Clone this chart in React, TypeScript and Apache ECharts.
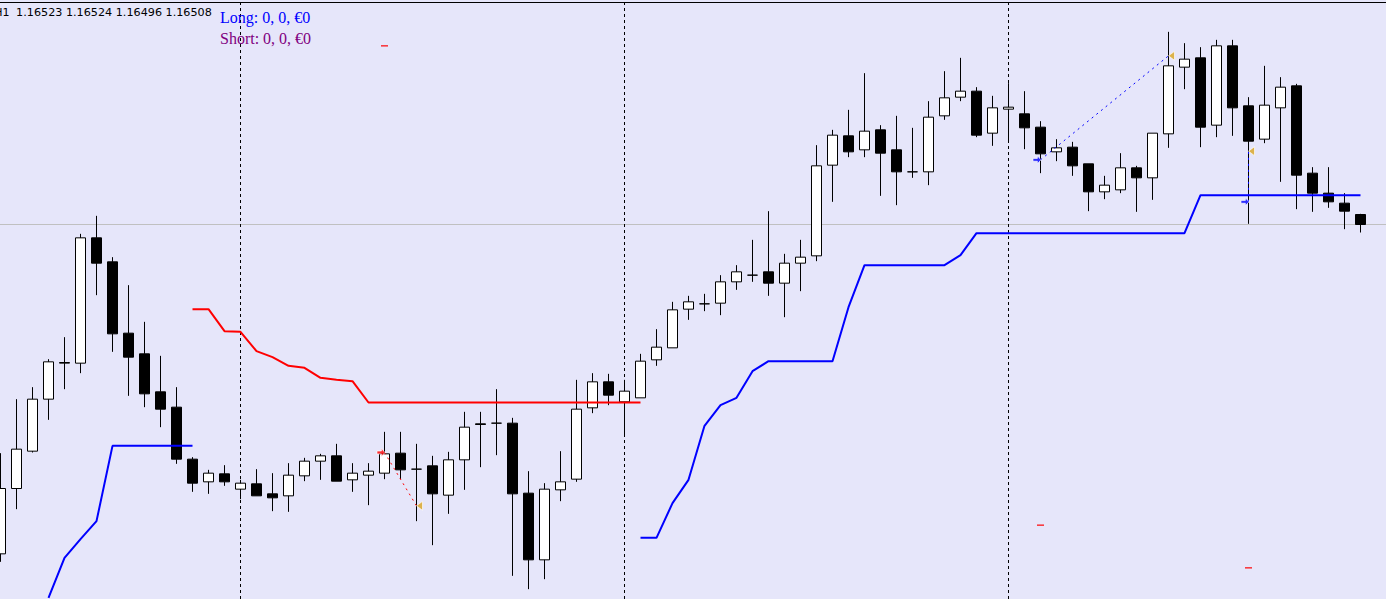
import React, { useEffect, useRef } from "react";
import * as echarts from "echarts";

// ---- hourly bars (H1), index 0 = first bar on screen ----
const barTimes: string[] = Array.from({ length: 86 }, (_, i) => {
  const t = i + 9;
  const day = 20 + Math.floor(t / 24);
  const h = t % 24;
  return `2025.08.${day} ${String(h).padStart(2, "0")}:00`;
});

const opens = [
  1.16014, 1.16112, 1.16168, 1.16246, 1.163, 1.163, 1.16488, 1.16452, 1.16345, 1.16314,
  1.16257, 1.16234, 1.16156, 1.16122, 1.16134, 1.16111, 1.16119, 1.16104, 1.16101, 1.16131,
  1.16153, 1.16161, 1.16125, 1.16132, 1.16135, 1.16165, 1.16141, 1.16146, 1.16102, 1.16155,
  1.16209, 1.1621, 1.1621, 1.16105, 1.16005, 1.1611, 1.16126, 1.16233, 1.16272, 1.16242,
  1.16248, 1.16305, 1.16323, 1.16381, 1.16389, 1.1639, 1.16422, 1.16432, 1.16437, 1.1642,
  1.1645, 1.16461, 1.16597, 1.16641, 1.1662, 1.1665, 1.1662, 1.16587, 1.16587, 1.16671,
  1.16699, 1.16708, 1.16645, 1.16681, 1.16674, 1.16654, 1.16617, 1.16624, 1.16599, 1.16557,
  1.1656, 1.16593, 1.16578, 1.16644, 1.16744, 1.16758, 1.16657, 1.16776, 1.16686, 1.16636,
  1.16683, 1.16716, 1.16585, 1.16555, 1.1654, 1.16523,
];
const closes = [
  1.16112, 1.16171, 1.16246, 1.16302, 1.16301, 1.16488, 1.1645, 1.16344, 1.16309, 1.16254,
  1.16231, 1.16156, 1.1612, 1.16135, 1.16122, 1.1612, 1.16101, 1.16098, 1.16132, 1.16153,
  1.16161, 1.16123, 1.16135, 1.16138, 1.16164, 1.1614, 1.16141, 1.16104, 1.16155, 1.16204,
  1.16208, 1.1621, 1.16104, 1.16005, 1.16111, 1.16122, 1.16231, 1.16272, 1.16252, 1.16258,
  1.16303, 1.16324, 1.1638, 1.16392, 1.16389, 1.16422, 1.16437, 1.16432, 1.1642, 1.1645,
  1.16459, 1.16596, 1.16642, 1.16617, 1.16648, 1.16615, 1.16587, 1.16587, 1.16669, 1.16698,
  1.16708, 1.16642, 1.16683, 1.16684, 1.16653, 1.16614, 1.16623, 1.16596, 1.16557, 1.16567,
  1.16593, 1.16578, 1.16645, 1.16746, 1.16756, 1.16654, 1.16776, 1.16683, 1.16633, 1.16687,
  1.16714, 1.16582, 1.16555, 1.16542, 1.16528, 1.16508,
];
const lows = [
  1.16002, 1.16081, 1.16166, 1.16215, 1.16261, 1.16285, 1.16402, 1.16317, 1.16251, 1.16234,
  1.16204, 1.16149, 1.16107, 1.16104, 1.16116, 1.16096, 1.16101, 1.16078, 1.16077, 1.16123,
  1.16125, 1.16123, 1.16107, 1.16087, 1.16126, 1.16126, 1.16063, 1.16027, 1.16074, 1.1611,
  1.16144, 1.16162, 1.15981, 1.15961, 1.15976, 1.16093, 1.16122, 1.16225, 1.16237, 1.16191,
  1.16248, 1.16296, 1.16323, 1.16365, 1.16378, 1.16372, 1.1641, 1.16422, 1.16401, 1.16369,
  1.16408, 1.16453, 1.16542, 1.16609, 1.16609, 1.16551, 1.16537, 1.16578, 1.16567, 1.16665,
  1.16693, 1.16639, 1.16626, 1.16632, 1.16621, 1.16585, 1.16603, 1.16581, 1.16528, 1.16546,
  1.16555, 1.16527, 1.16545, 1.16623, 1.16711, 1.16624, 1.16639, 1.16641, 1.16509, 1.1663,
  1.16572, 1.16531, 1.16527, 1.16533, 1.16501, 1.16496,
];
const highs = [
  1.16165, 1.16246, 1.16264, 1.16306, 1.16339, 1.16494, 1.16521, 1.16459, 1.16417, 1.16362,
  1.16311, 1.16264, 1.16159, 1.1614, 1.16147, 1.16125, 1.16141, 1.16135, 1.1615, 1.16158,
  1.16164, 1.16179, 1.1615, 1.1615, 1.16197, 1.16197, 1.16179, 1.16161, 1.16167, 1.16227,
  1.16227, 1.16261, 1.16218, 1.16138, 1.1612, 1.16168, 1.16275, 1.16285, 1.16284, 1.16275,
  1.16314, 1.16351, 1.16392, 1.16401, 1.16404, 1.16432, 1.16447, 1.16485, 1.16528, 1.16464,
  1.16485, 1.16627, 1.1665, 1.1668, 1.16735, 1.16657, 1.16671, 1.16653, 1.16693, 1.16738,
  1.16758, 1.16714, 1.16701, 1.1672, 1.16708, 1.16663, 1.16636, 1.16632, 1.16599, 1.16581,
  1.16615, 1.16596, 1.16645, 1.16797, 1.1678, 1.16774, 1.16785, 1.16785, 1.16699, 1.16746,
  1.16729, 1.16719, 1.16594, 1.16594, 1.16555, 1.16524,
];

// trailing stop lines (start bar index + values)
const sellStopStart = 12;
const sellStop = [
  1.16381, 1.16381, 1.16348, 1.16347, 1.16318, 1.16309, 1.16296, 1.16293, 1.16278, 1.16275,
  1.16273, 1.16241, 1.16241, 1.16241, 1.16241, 1.16241, 1.16241, 1.16241, 1.16241, 1.16241,
  1.16241, 1.16241, 1.16241, 1.16241, 1.16241, 1.16241, 1.16241, 1.16241, 1.16241,
];
const buyStopAStart = 3;
const buyStopA = [1.15948, 1.16008, 1.16036, 1.16063, 1.16176, 1.16176, 1.16176, 1.16176, 1.16176, 1.16176];
const buyStopBStart = 40;
const buyStopB = [
  1.16038, 1.16038, 1.1609, 1.16125, 1.16206, 1.16237, 1.16248, 1.16288, 1.16303, 1.16303,
  1.16303, 1.16303, 1.16303, 1.16384, 1.16447, 1.16447, 1.16447, 1.16447, 1.16447, 1.16447,
  1.16462, 1.16495, 1.16495, 1.16495, 1.16495, 1.16495, 1.16495, 1.16495, 1.16495, 1.16495,
  1.16495, 1.16495, 1.16495, 1.16495, 1.16495, 1.16552, 1.16552, 1.16552, 1.16552, 1.16552,
  1.16552, 1.16552, 1.16552, 1.16552, 1.16552, 1.16552,
];

// trades
const tradeKinds = ["sell", "buy", "buy"];
const tradeEntryBar = [24, 65, 78];
const tradeEntryPrice = [1.16166, 1.16605, 1.16542];
const tradeExitBar = [26, 73, 78];
const tradeExitPrice = [1.16086, 1.16761, 1.16618];
const tradeStopPrice = [1.16776, 1.16057, 1.15993];

const daySeparators = [15, 39, 63];
const bidPrice = 1.16508;

// visible window (bar index units / price)
const xMin = -0.03125;
const xMax = 86.59375;
const yMin = 1.1594625;
const yMax = 1.1684475;

const headerSymbol = "H1";
const headerValues = "1.16523 1.16524 1.16496 1.16508";
const longText = "Long: 0, 0, €0";
const shortText = "Short: 0, 0, €0";

const ARROW = "path://M0,32L55,32L55,0L100,50L55,100L55,68L0,68Z";
const CLOSE_TRI = "path://M0,50L100,0L100,100Z";

export default function App() {
  const ref = useRef<HTMLDivElement>(null);

  useEffect(() => {
    if (!ref.current) return;
    const chart = echarts.init(ref.current, undefined, { renderer: "svg" });

    const candleData = opens.map((o, i) => ({
      name: barTimes[i],
      value: [i, o, closes[i], lows[i], highs[i]],
    }));
    const toPairs = (start: number, arr: number[]) => arr.map((v, i) => [start + i, v]);

    const guideSeries: any[] = [
      {
        type: "line",
        data: [
          [xMin, bidPrice],
          [xMax, bidPrice],
        ],
        symbol: "none",
        lineStyle: { color: "#C0C0C0", width: 1 },
        z: 1,
        silent: true,
      },
      ...daySeparators.map((d) => ({
        type: "line",
        data: [
          [d, yMin],
          [d, yMax],
        ],
        symbol: "none",
        lineStyle: { color: "#000000", width: 1, type: [3, 3] },
        z: 1,
        silent: true,
      })),
    ];

    const tradeSeries: any[] = tradeKinds.map((kind, t) => ({
      type: "line",
      data: [
        [tradeEntryBar[t], tradeEntryPrice[t]],
        [tradeExitBar[t], tradeExitPrice[t]],
      ],
      symbol: "none",
      lineStyle: { color: kind === "sell" ? "#FF0000" : "#0000FF", width: 1, type: [2, 4] },
      z: 4,
      silent: true,
    }));

    const markerData: any[] = [];
    tradeKinds.forEach((kind, t) => {
      const col = kind === "sell" ? "#FF0000" : "#0000FF";
      markerData.push({
        value: [tradeEntryBar[t], tradeEntryPrice[t]],
        symbol: ARROW,
        symbolSize: [8, 8],
        symbolOffset: [-3.5, 0],
        itemStyle: { color: col, borderColor: "#FFFFFF", borderWidth: 0.8 },
      });
      markerData.push({
        value: [tradeExitBar[t], tradeExitPrice[t]],
        symbol: CLOSE_TRI,
        symbolSize: [6, 9],
        symbolOffset: [3, 0],
        itemStyle: { color: "#DAA520", borderColor: "#FFFFFF", borderWidth: 0.8 },
      });
      markerData.push({
        value: [tradeEntryBar[t], tradeStopPrice[t]],
        symbol: "rect",
        symbolSize: [7, 1.5],
        itemStyle: { color: "#FF0000" },
      });
    });

    chart.setOption({
      animation: false,
      backgroundColor: "#E6E6FA",
      grid: { left: 0, top: 0, right: 0, bottom: 0, containLabel: false },
      xAxis: {
        type: "value",
        min: xMin,
        max: xMax,
        show: false,
        splitLine: { show: false },
      },
      yAxis: {
        type: "value",
        min: yMin,
        max: yMax,
        show: false,
        splitLine: { show: false },
      },
      series: [
        ...guideSeries,
        {
          type: "candlestick",
          data: candleData,
          encode: { x: 0, y: [1, 2, 3, 4] },
          barWidth: 10,
          z: 2,
          silent: true,
          itemStyle: {
            color: "#FFFFFF",
            color0: "#000000",
            borderColor: "#000000",
            borderColor0: "#000000",
            borderWidth: 1,
          },
        },
        {
          type: "line",
          data: toPairs(sellStopStart, sellStop),
          symbol: "none",
          lineStyle: { color: "#FF0000", width: 2 },
          z: 3,
          silent: true,
        },
        {
          type: "line",
          data: toPairs(buyStopAStart, buyStopA),
          symbol: "none",
          lineStyle: { color: "#0000FF", width: 2 },
          z: 3,
          silent: true,
        },
        {
          type: "line",
          data: toPairs(buyStopBStart, buyStopB),
          symbol: "none",
          lineStyle: { color: "#0000FF", width: 2 },
          z: 3,
          silent: true,
        },
        ...tradeSeries,
        {
          type: "scatter",
          data: markerData,
          z: 5,
          silent: true,
        },
      ],
      graphic: [
        {
          type: "line",
          shape: { x1: 0, y1: 2.5, x2: 1386, y2: 2.5 },
          style: { stroke: "#000000", lineWidth: 1 },
          z: 10,
        },
        {
          type: "text",
          x: -5.8,
          y: 12.7,
          style: {
            text: headerSymbol,
            fill: "#000000",
            font: "11px 'DejaVu Sans'",
            verticalAlign: "middle",
          },
          z: 10,
        },
        {
          type: "text",
          x: 16.1,
          y: 12.7,
          style: {
            text: headerValues,
            fill: "#000000",
            font: "11.2px 'DejaVu Sans'",
            verticalAlign: "middle",
          },
          z: 10,
        },
        {
          type: "text",
          x: 220,
          y: 17,
          style: {
            text: longText,
            fill: "#0000FF",
            font: "16px 'Liberation Serif'",
            verticalAlign: "middle",
          },
          z: 10,
        },
        {
          type: "text",
          x: 220,
          y: 38,
          style: {
            text: shortText,
            fill: "#800080",
            font: "16px 'Liberation Serif'",
            verticalAlign: "middle",
          },
          z: 10,
        },
      ],
    });

    return () => chart.dispose();
  }, []);

  return (
    <div
      ref={ref}
      style={{ position: "fixed", left: 0, top: 0, width: 1386, height: 599 }}
    />
  );
}
